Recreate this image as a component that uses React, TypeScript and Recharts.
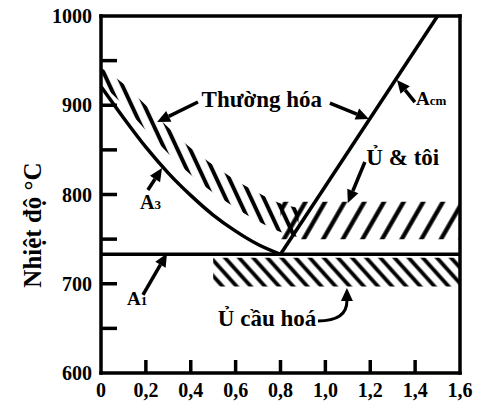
import React from "react";
import {
  Area,
  ComposedChart,
  Line,
  ReferenceDot,
  ReferenceLine,
  XAxis,
  YAxis,
} from "recharts";

const xTicks = [0, 0.2, 0.4, 0.6, 0.8, 1.0, 1.2, 1.4, 1.6];
const yTicks = [600, 650, 700, 750, 800, 850, 900, 950, 1000];

// phase lines
const a3X = [0, 0.1, 0.2, 0.3, 0.4, 0.5, 0.6, 0.7, 0.8];
const a3T = [921, 886, 853, 824, 799, 777, 759, 744, 733];
const a1X = [0, 1.6];
const a1T = [733, 733];
const acmX = [0.8, 1.5];
const acmT = [733, 1000];

// heat treatment ranges (hatched)
const normX = [0, 0.1, 0.2, 0.3, 0.4, 0.5, 0.6, 0.7, 0.8, 0.88];
const normLo = [925, 900, 872, 846, 822, 802, 785, 770, 758, 752];
const normHi = [942, 924, 900, 875, 852, 833, 816, 802, 790, 785];
const annX = [0.8, 1.6];
const annLo = [750, 750];
const annHi = [792, 792];
const sphX = [0.5, 1.6];
const sphLo = [697, 697];
const sphHi = [729, 729];

const labels = [
  { main: "Thường hóa", sub: "", x: 0.717, t: 898, anchor: "middle", size: 23 },
  { main: "Ủ & tôi", sub: "", x: 1.345, t: 833, anchor: "middle", size: 23 },
  { main: "Ủ cầu hoá", sub: "", x: 0.74, t: 653, anchor: "middle", size: 23 },
  { main: "A", sub: "3", x: 0.174, t: 784, anchor: "start", size: 20 },
  { main: "A", sub: "1", x: 0.116, t: 676, anchor: "start", size: 19 },
  { main: "A", sub: "cm", x: 1.404, t: 900, anchor: "start", size: 19 },
];

const arrows = [
  { x1: 0.432, t1: 903.6, x2: 0.25, t2: 881.2 },
  { x1: 1.02, t1: 902.5, x2: 1.194, t2: 884.6 },
  { x1: 0.209, t1: 805, x2: 0.272, t2: 829.7 },
  { x1: 1.399, t1: 903.6, x2: 1.319, t2: 928.3 },
  { x1: 1.176, t1: 836.4, x2: 1.1, t2: 790.5 },
  { x1: 0.187, t1: 687.4, x2: 0.294, t2: 734 },
];
const curvedArrow = { x1: 0.967, t1: 658.3, x2: 1.096, t2: 695.2 };

const font = "'Liberation Serif', 'Times New Roman', serif";

const line = (xs: number[], ts: number[]) => xs.map((x, i) => ({ x, t: ts[i] }));
const band = (xs: number[], lo: number[], hi: number[]) =>
  xs.map((x, i) => ({ x, band: [lo[i], hi[i]] }));

function head(x1: number, y1: number, x2: number, y2: number) {
  const len = Math.hypot(x2 - x1, y2 - y1) || 1;
  const ux = (x2 - x1) / len;
  const uy = (y2 - y1) / len;
  const hl = 13;
  const hw = 6;
  const bx = x2 - ux * hl;
  const by = y2 - uy * hl;
  return {
    bx,
    by,
    pts: `${x2},${y2} ${bx - uy * hw},${by + ux * hw} ${bx + uy * hw},${by - ux * hw}`,
  };
}

const Arrow = (p: any) => {
  const h = head(p.x1, p.y1, p.x2, p.y2);
  return (
    <g>
      <line x1={p.x1} y1={p.y1} x2={h.bx} y2={h.by} stroke="#000" strokeWidth={3.5} />
      <polygon points={h.pts} fill="#000" />
    </g>
  );
};

const CurvedArrow = (p: any) => {
  const cx = p.x2;
  const cy = p.y1;
  const h = head(cx, cy, p.x2, p.y2);
  return (
    <g>
      <path
        d={`M${p.x1},${p.y1} Q${cx},${cy} ${h.bx},${h.by}`}
        fill="none"
        stroke="#000"
        strokeWidth={3}
      />
      <polygon points={h.pts} fill="#000" />
    </g>
  );
};

const YTick = (p: any) => {
  const v = p.payload.value;
  const inner = v > 600 && v < 1000;
  return (
    <g>
      {inner && <line x1={p.x} y1={p.y} x2={p.x + 16} y2={p.y} stroke="#000" strokeWidth={3.5} />}
      {v % 100 === 0 && (
        <text
          x={p.x - 9}
          y={p.y}
          dy={7}
          textAnchor="end"
          fontFamily={font}
          fontWeight="bold"
          fontSize={20}
          fill="#000"
        >
          {v}
        </text>
      )}
    </g>
  );
};

const XTick = (p: any) => {
  const v = p.payload.value;
  const inner = v > 0 && v < 1.6;
  const txt = v === 0 ? "0" : v.toFixed(1).replace(".", ",");
  return (
    <g>
      {inner && <line x1={p.x} y1={p.y} x2={p.x} y2={p.y - 13} stroke="#000" strokeWidth={3.5} />}
      <text
        x={p.x}
        y={p.y + 24}
        textAnchor="middle"
        fontFamily={font}
        fontWeight="bold"
        fontSize={20}
        fill="#000"
      >
        {txt}
      </text>
    </g>
  );
};

export default function App() {
  return (
    <div style={{ position: "fixed", left: 0, top: 0, background: "#fff" }}>
      <ComposedChart width={477} height={404} margin={{ top: 16, right: 17, bottom: 0, left: 0 }}>
        <defs>
          <pattern id="hNorm" patternUnits="userSpaceOnUse" width={11.5} height={11.5} patternTransform="rotate(-25)">
            <line x1={5.75} y1={0} x2={5.75} y2={11.5} stroke="#000" strokeWidth={4} />
          </pattern>
          <pattern id="hAnn" patternUnits="userSpaceOnUse" width={17} height={17} patternTransform="rotate(30)">
            <line x1={8.5} y1={0} x2={8.5} y2={17} stroke="#000" strokeWidth={4.3} />
          </pattern>
          <pattern id="hSph" patternUnits="userSpaceOnUse" width={10.5} height={10.5} patternTransform="rotate(-42)">
            <line x1={5.25} y1={0} x2={5.25} y2={10.5} stroke="#000" strokeWidth={3.8} />
          </pattern>
        </defs>
        <XAxis
          dataKey="x"
          type="number"
          domain={[0, 1.6]}
          ticks={xTicks}
          height={31}
          tickSize={0}
          tickMargin={0}
          tickLine={false}
          axisLine={{ stroke: "#000", strokeWidth: 3.5, strokeLinecap: "square" }}
          tick={(p: any) => <XTick {...p} />}
        />
        <YAxis
          type="number"
          domain={[600, 1000]}
          ticks={yTicks}
          width={101}
          tickSize={0}
          tickMargin={0}
          tickLine={false}
          axisLine={{ stroke: "#000", strokeWidth: 3.5, strokeLinecap: "square" }}
          tick={(p: any) => <YTick {...p} />}
        />
        <ReferenceLine y={1000} stroke="#000" strokeWidth={3.5} strokeLinecap="square" />
        <ReferenceLine x={1.6} stroke="#000" strokeWidth={3.5} strokeLinecap="square" />

        <Area data={band(normX, normLo, normHi)} dataKey="band" type="monotone" stroke="none" fill="url(#hNorm)" fillOpacity={1} isAnimationActive={false} />
        <Area data={band(annX, annLo, annHi)} dataKey="band" type="linear" stroke="none" fill="url(#hAnn)" fillOpacity={1} isAnimationActive={false} />
        <Area data={band(sphX, sphLo, sphHi)} dataKey="band" type="linear" stroke="none" fill="url(#hSph)" fillOpacity={1} isAnimationActive={false} />

        <Line data={line(a3X, a3T)} dataKey="t" type="monotone" stroke="#000" strokeWidth={3.5} dot={false} isAnimationActive={false} />
        <Line data={line(a1X, a1T)} dataKey="t" type="linear" stroke="#000" strokeWidth={3.5} dot={false} isAnimationActive={false} />
        <Line data={line(acmX, acmT)} dataKey="t" type="linear" stroke="#000" strokeWidth={3.5} dot={false} isAnimationActive={false} />

        {arrows.map((a, i) => (
          <ReferenceLine
            key={"a" + i}
            segment={[{ x: a.x1, y: a.t1 }, { x: a.x2, y: a.t2 }]}
            ifOverflow="visible"
            shape={(p: any) => <Arrow {...p} />}
          />
        ))}
        <ReferenceLine
          segment={[{ x: curvedArrow.x1, y: curvedArrow.t1 }, { x: curvedArrow.x2, y: curvedArrow.t2 }]}
          ifOverflow="visible"
          shape={(p: any) => <CurvedArrow {...p} />}
        />

        {labels.map((l, i) => (
          <ReferenceDot
            key={"l" + i}
            x={l.x}
            y={l.t}
            r={0}
            ifOverflow="visible"
            shape={(p: any) => (
              <text
                x={p.cx}
                y={p.cy}
                textAnchor={l.anchor as any}
                fontFamily={font}
                fontWeight="bold"
                fill="#000"
              >
                <tspan fontSize={l.size}>{l.main}</tspan>
                {l.sub && <tspan fontSize={13}>{l.sub}</tspan>}
              </text>
            )}
          />
        ))}

        <text
          x={41}
          y={225}
          transform="rotate(-90, 41, 225)"
          textAnchor="middle"
          fontFamily={font}
          fontWeight="bold"
          fontSize={25}
          fill="#000"
        >
          Nhiệt độ °C
        </text>
      </ComposedChart>
    </div>
  );
}
